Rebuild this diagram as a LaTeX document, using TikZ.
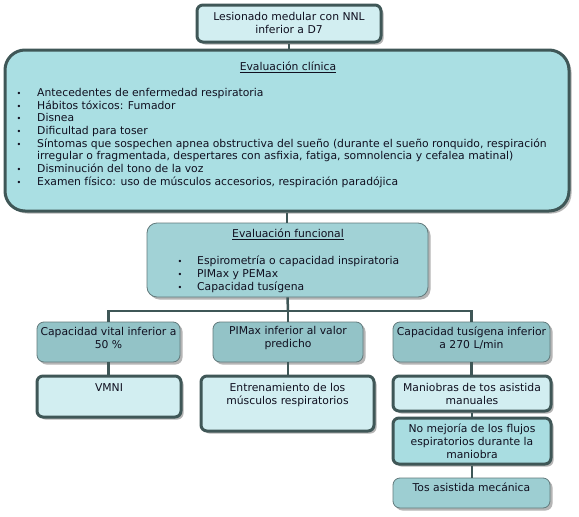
\documentclass[tikz,border=0pt]{standalone}
\usepackage{fontspec}
\setmainfont{DejaVu Sans}
\usetikzlibrary{shadows,fit}
\definecolor{dk}{HTML}{3F5757}
\definecolor{md}{HTML}{627A7C}
\definecolor{shd}{HTML}{B5B5B5}
\definecolor{fLight}{HTML}{D2EEF1}
\definecolor{fClin}{HTML}{AADFE3}
\definecolor{fFunc}{HTML}{A1D2D6}
\definecolor{fMid}{HTML}{93C3C7}
\definecolor{fNo}{HTML}{A9DDE1}
\definecolor{fTos}{HTML}{9DCED2}
\definecolor{ink}{HTML}{101020}
\newcommand{\bul}{\makebox[21pt][l]{\hspace*{0.5pt}\scalebox{0.75}{\textbullet}}}
\newcommand{\bulf}{\makebox[20pt][l]{\hspace*{0.5pt}\scalebox{0.75}{\textbullet}}}
\begin{document}
\begin{tikzpicture}[x=1pt,y=-1pt,
  shad/.style={drop shadow={shadow xshift=2.5pt,shadow yshift=-2.5pt,fill=shd,opacity=1}},
  heavy/.style={draw=dk,line width=3pt,rounded corners=6pt,inner sep=0pt,shad},
  light/.style={draw=md,line width=0.8pt,rounded corners=7pt,inner sep=0pt,shad},
  txt/.style={inner sep=0pt,align=center,text=ink,font=\fontsize{10.8}{13}\selectfont},
  lst/.style={inner sep=0pt,align=left,text=ink,font=\fontsize{10.8}{12.7}\selectfont},
  link/.style={draw=dk,line width=2.5pt}]
\useasboundingbox[fill=white] (0,0) rectangle (579,517);
% boxes
\node[heavy,fill=fLight,fit={(197,5) (381,42)}] (top) {};
\node[heavy,fill=fClin,rounded corners=20pt,fit={(5,50) (569,211)}] (clin) {};
\node[light,fill=fFunc,rounded corners=10pt,fit={(147,223) (428,297)}] (func) {};
\node[light,fill=fMid,fit={(37,322) (180,362)}] (cv) {};
\node[light,fill=fMid,fit={(213,322) (363,362)}] (pi) {};
\node[light,fill=fMid,fit={(393,322) (550,362)}] (ct) {};
\node[heavy,fill=fLight,fit={(37,376) (181,417)}] (vm) {};
\node[heavy,fill=fLight,fit={(201,376) (374,431)}] (en) {};
\node[heavy,fill=fLight,fit={(393,376) (551,411)}] (ma) {};
\node[heavy,fill=fNo,fit={(393,418) (551,464)}] (no) {};
\node[light,fill=fTos,fit={(393,478) (550,508)}] (tos) {};
\coordinate (j) at (288,311);
% connectors
\draw[link] (top.south) -- (top.south |- clin.north);
\draw[link] (clin.south) -- (clin.south |- func.north);
\draw[link] (func.south) -- (j);
\draw[link] (cv.north) |- (j) -| (ct.north);
\draw[link] (j) -- (pi.north);
\draw[link] (cv.south) -- (cv.south |- vm.north);
\draw[link] (pi.south) -- (pi.south |- en.north);
\draw[link] (ct.south) -- (ct.south |- ma.north);
\draw[link] (ma.south) -- (ma.south |- no.north);
\draw[link] (no.south) -- (no.south |- tos.north);
% texts
\node[txt] (topt) at (289,23) {Lesionado medular con NNL\\inferior a D7};
\node[txt] (clint) at (288,67) {\underline{Evaluación clínica}};
\node[lst,anchor=north west] (clinl) at (16,88) {\bul Antecedentes de enfermedad respiratoria\\
\bul Hábitos tóxicos: Fumador\\
\bul Disnea\\
\bul Dificultad para toser\\
\bul Síntomas que sospechen apnea obstructiva del sueño (durante el sueño ronquido, respiración\\
\hspace*{21pt}irregular o fragmentada, despertares con asfixia, fatiga, somnolencia y cefalea matinal)\\
\bul Disminución del tono de la voz\\
\bul Examen físico: uso de músculos accesorios, respiración paradójica};
\node[txt] (funct) at (288,234) {\underline{Evaluación funcional}};
\node[lst,anchor=north west] (funcl) at (177,256) {\bulf Espirometría o capacidad inspiratoria\\
\bulf PIMax y PEMax\\
\bulf Capacidad tusígena};
\node[txt] (cvt) at (108.5,338) {Capacidad vital inferior a\\50 \%};
\node[txt] (pit) at (288,338) {PIMax inferior al valor\\predicho};
\node[txt] (ctt) at (471.5,338) {Capacidad tusígena inferior\\a 270 L/min};
\node[txt] (vmt) at (109,388) {VMNI};
\node[txt] (ent) at (287.5,395) {Entrenamiento de los\\músculos respiratorios};
\node[txt] (mat) at (472,394) {Maniobras de tos asistida\\manuales};
\node[txt] (not) at (472,441) {No mejoría de los flujos\\espiratorios durante la\\maniobra};
\node[txt] (tost) at (471.5,487) {Tos asistida mecánica};
\end{tikzpicture}
\end{document}
